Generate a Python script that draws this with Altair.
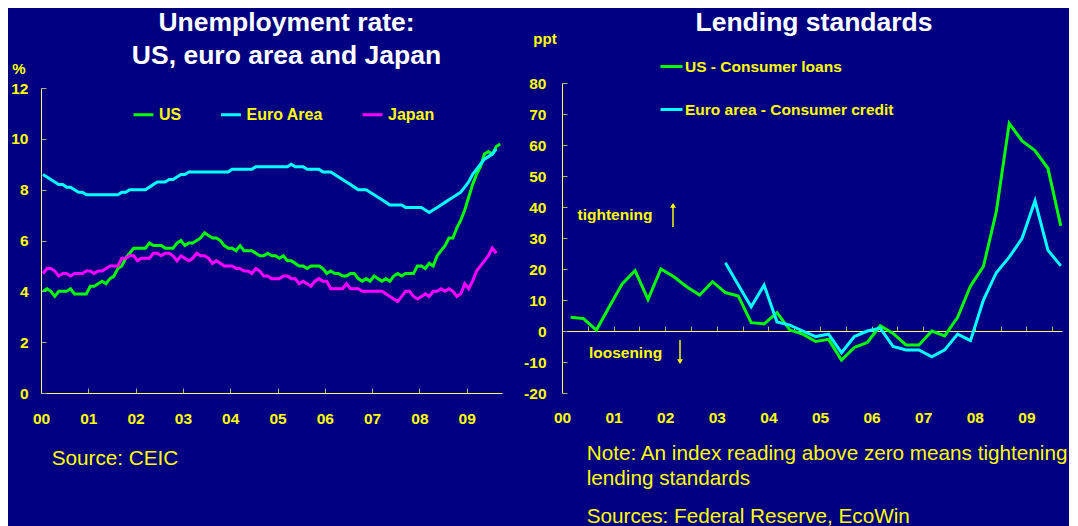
import altair as alt
import pandas as pd

FONT = "Liberation Sans"
BG = "#000080"
YELLOW = "#ffff00"
WHITE = "#ffffff"
GREEN = "#00ff00"
CYAN = "#00ffff"
MAGENTA = "#ff00ff"
AXIS_COL = "#ffff66"
TICK_COL = "#b4b46e"

# ---------------- data ----------------
# Unemployment rate, %, monthly from Jan 2000
us_unemp = [
    4.0, 4.1, 4.0, 3.8, 4.0, 4.0, 4.0, 4.1, 3.9, 3.9, 3.9, 3.9,
    4.2, 4.2, 4.3, 4.4, 4.3, 4.5, 4.6, 4.9, 5.0, 5.3, 5.5, 5.7,
    5.7, 5.7, 5.7, 5.9, 5.8, 5.8, 5.8, 5.7, 5.7, 5.7, 5.9, 6.0,
    5.8, 5.9, 5.9, 6.0, 6.1, 6.3, 6.2, 6.1, 6.1, 6.0, 5.8, 5.7,
    5.7, 5.6, 5.8, 5.6, 5.6, 5.6, 5.5, 5.4, 5.4, 5.5, 5.4, 5.4,
    5.3, 5.4, 5.2, 5.2, 5.1, 5.0, 5.0, 4.9, 5.0, 5.0, 5.0, 4.9,
    4.7, 4.8, 4.7, 4.7, 4.6, 4.6, 4.7, 4.7, 4.5, 4.4, 4.5, 4.4,
    4.6, 4.5, 4.4, 4.5, 4.4, 4.6, 4.7, 4.6, 4.7, 4.7, 4.7, 5.0,
    5.0, 4.9, 5.1, 5.0, 5.4, 5.6, 5.8, 6.1, 6.1, 6.5, 6.8, 7.2,
    7.7, 8.2, 8.6, 8.9, 9.4, 9.5, 9.4, 9.7, 9.8,
]
euro_unemp = [
    8.6, 8.5, 8.4, 8.3, 8.2, 8.2, 8.1, 8.1, 8.0, 7.9, 7.9, 7.8,
    7.8, 7.8, 7.8, 7.8, 7.8, 7.8, 7.8, 7.8, 7.9, 7.9, 8.0, 8.0,
    8.0, 8.0, 8.0, 8.1, 8.2, 8.3, 8.3, 8.3, 8.4, 8.4, 8.5, 8.6,
    8.6, 8.7, 8.7, 8.7, 8.7, 8.7, 8.7, 8.7, 8.7, 8.7, 8.7, 8.7,
    8.8, 8.8, 8.8, 8.8, 8.8, 8.8, 8.9, 8.9, 8.9, 8.9, 8.9, 8.9,
    8.9, 8.9, 8.9, 9.0, 8.9, 8.9, 8.9, 8.8, 8.8, 8.8, 8.8, 8.7,
    8.7, 8.7, 8.6, 8.5, 8.4, 8.3, 8.2, 8.1, 8.0, 8.0, 8.0, 7.9,
    7.8, 7.7, 7.6, 7.5, 7.4, 7.4, 7.4, 7.4, 7.3, 7.3, 7.3, 7.3,
    7.3, 7.2, 7.1, 7.2, 7.3, 7.4, 7.5, 7.6, 7.7, 7.8, 7.9, 8.1,
    8.3, 8.6, 8.8, 9.0, 9.2, 9.3, 9.4, 9.6,
]
japan_unemp = [
    4.7, 4.9, 4.9, 4.8, 4.6, 4.7, 4.7, 4.6, 4.7, 4.7, 4.7, 4.8,
    4.8, 4.7, 4.8, 4.8, 4.9, 5.0, 5.0, 5.0, 5.3, 5.3, 5.4, 5.4,
    5.2, 5.3, 5.3, 5.3, 5.5, 5.5, 5.4, 5.5, 5.5, 5.4, 5.2, 5.4,
    5.3, 5.2, 5.3, 5.5, 5.4, 5.4, 5.3, 5.1, 5.2, 5.1, 5.0, 5.0,
    5.0, 4.9, 4.9, 4.8, 4.8, 4.7, 4.9, 4.8, 4.6, 4.6, 4.5, 4.5,
    4.5, 4.6, 4.6, 4.5, 4.5, 4.3, 4.4, 4.3, 4.2, 4.4, 4.5, 4.4,
    4.4, 4.1, 4.1, 4.1, 4.1, 4.3, 4.1, 4.1, 4.1, 4.0, 4.0, 4.0,
    4.0, 4.0, 4.0, 3.9, 3.8, 3.7, 3.6, 3.8, 4.0, 4.0, 3.8, 3.7,
    3.8, 3.9, 3.8, 4.0, 4.0, 4.1, 4.0, 4.1, 4.0, 3.8, 3.9, 4.3,
    4.1, 4.4, 4.8, 5.0, 5.2, 5.4, 5.7, 5.5,
]
unemp_series = ["US", "Euro Area", "Japan"]
unemp_colors = [GREEN, CYAN, MAGENTA]

# Lending standards, net % (ppt), quarterly
us_lending_start = 2000  # first survey: Q1 2000
us_lending = [
    4.4, 4.0, 0.3, 7.8,
    15.2, 19.5, 10.2, 20.0,
    17.5, 14.3, 11.6, 15.9,
    12.4, 11.3, 2.7, 2.3,
    5.9, 0.3, -1.0, -3.4,
    -2.7, -9.4, -5.3, -3.7,
    1.7, -0.8, -4.5, -4.5,
    0.0, -1.6, 4.4, 14.5,
    20.8, 38.5, 67.0, 61.3,
    58.2, 52.5, 33.9,
]
euro_lending_start = 2003  # first survey: Q1 2003
euro_lending = [
    22.0, 14.8, 7.8, 14.8,
    2.9, 1.9, 0.0, -1.8,
    -1.0, -7.0, -1.8, 0.0,
    0.9, -5.0, -6.1, -6.1,
    -8.3, -6.1, -1.0, -3.1,
    10.0, 18.8, 23.8, 29.9,
    42.0, 26.1, 21.0,
]
lending_series = ["US - Consumer loans", "Euro area - Consumer credit"]
lending_colors = [GREEN, CYAN]

year_ticks = list(range(2000, 2010))
year_labels = ["00", "01", "02", "03", "04", "05", "06", "07", "08", "09"]
half_year_ticks = [2000 + 0.5 * k for k in range(20)]
unemp_ticks = list(range(0, 13, 2))
lending_ticks = list(range(-20, 81, 10))


def monthly(vals, name):
    return pd.DataFrame({
        "t": [2000 + (i + 0.5) / 12 for i in range(len(vals))],
        "v": vals,
        "series": name,
    })


def quarterly(vals, name, start):
    return pd.DataFrame({
        "t": [start + (3 * (i + 1) - 1) / 12 for i in range(len(vals))],
        "v": vals,
        "series": name,
    })


un_df = pd.concat([
    monthly(us_unemp, unemp_series[0]),
    monthly(euro_unemp, unemp_series[1]),
    monthly(japan_unemp, unemp_series[2]),
], ignore_index=True)

ld_df = pd.concat([
    quarterly(us_lending, lending_series[0], us_lending_start),
    quarterly(euro_lending, lending_series[1], euro_lending_start),
], ignore_index=True)

LBL_EXPR = "[" + ",".join("'%s'" % s for s in year_labels) + "][round(datum.value) - 2000]"

# ---------------- layout ----------------
H = 310
LW = 461
RW = 500


def label_axis_x(pad):
    return alt.Axis(orient="bottom", values=year_ticks, labelExpr=LBL_EXPR,
                    domain=False, ticks=False, tickSize=0, grid=False, title=None,
                    labelPadding=pad, labelFlush=False, labelOverlap=False, labelBound=False,
                    labelFont=FONT, labelFontSize=15.5, labelFontWeight="bold",
                    labelColor=YELLOW)


def label_axis_y(vals, pad):
    return alt.Axis(orient="left", values=vals, labelExpr="toString(datum.value)",
                    domain=False, ticks=False, tickSize=0, grid=False, title=None,
                    labelPadding=pad, labelFlush=False, labelOverlap=False,
                    labelFont=FONT, labelFontSize=15.5, labelFontWeight="bold",
                    labelColor=YELLOW)


def line_axis(orient, vals, offset):
    return alt.Axis(orient=orient, values=vals, labels=False, grid=False, title=None,
                    offset=offset, domainColor=AXIS_COL, domainWidth=1,
                    tickColor=TICK_COL, tickSize=5, tickWidth=1)


def txt(label, x, y, size, color=YELLOW, weight="bold", align="center", baseline="alphabetic"):
    return alt.Chart(pd.DataFrame({"label": [label]})).mark_text(
        font=FONT, fontSize=size, fontWeight=weight, color=color,
        align=align, baseline=baseline,
    ).encode(x=alt.value(x), y=alt.value(y), text="label:N")


ARROW = "M0,-1L0.25,-0.6L0.06,-0.6L0.06,1L-0.06,1L-0.06,-0.6L-0.25,-0.6Z"


def arrow(x, y, angle):
    return alt.Chart(pd.DataFrame({"a": [0]})).mark_point(
        shape=ARROW, filled=True, size=576, color=YELLOW, opacity=1,
        strokeWidth=0, angle=angle,
    ).encode(x=alt.value(x), y=alt.value(y))


# ----- left panel: unemployment -----
lxs = alt.Scale(domain=[2000, 2000 + LW / 47.3], nice=False, zero=False)
lys = alt.Scale(domain=[0, 12], range=[H, 5], nice=False, zero=False)

left_lines = alt.Chart(un_df).mark_line(strokeWidth=3).encode(
    x=alt.X("t:Q", scale=lxs, axis=label_axis_x(18)),
    y=alt.Y("v:Q", scale=lys, axis=label_axis_y(unemp_ticks, 13)),
    color=alt.Color("series:N", sort=unemp_series,
                    scale=alt.Scale(domain=unemp_series, range=unemp_colors),
                    legend=alt.Legend(orient="none", legendX=91, legendY=20,
                                      direction="horizontal", title=None,
                                      symbolType="stroke", symbolStrokeWidth=3,
                                      symbolSize=400, labelOffset=4, columnPadding=32.5,
                                      labelLimit=300,
                                      labelFont=FONT, labelFontSize=16,
                                      labelFontWeight="bold", labelColor=YELLOW)),
)
left_axes = alt.Chart(un_df).mark_point(opacity=0).encode(
    x=alt.X("t:Q", scale=lxs, axis=line_axis("top", year_ticks, -H)),
    y=alt.Y("v:Q", scale=lys, axis=line_axis("right", unemp_ticks, -LW)),
)
anchor = alt.Chart(pd.DataFrame({"a": [0]})).mark_rect(opacity=0).encode(
    x=alt.value(-33), x2=alt.value(-32), y=alt.value(-75), y2=alt.value(-74)
)

left = alt.layer(
    left_axes, left_lines, anchor,
    txt("Unemployment rate:", 245.5, -52.3, 26.5, color=WHITE),
    txt("US, euro area and Japan", 245.5, -19.5, 26.5, color=WHITE),
    txt("%", -22, -14, 15, baseline="middle"),
    txt("Source: CEIC", 10.7, 382, 20.7, weight="normal", align="left"),
).resolve_axis(x="independent", y="independent").properties(width=LW, height=H)

# ----- right panel: lending standards -----
rxs = alt.Scale(domain=[2000, 2000 + RW / 51.6], nice=False, zero=False)
rys = alt.Scale(domain=[-20, 80], nice=False, zero=False)
zero_offset = -H * 80 / 100

right_lines = alt.Chart(ld_df).mark_line(strokeWidth=3).encode(
    x=alt.X("t:Q", scale=rxs, axis=label_axis_x(17)),
    y=alt.Y("v:Q", scale=rys, axis=label_axis_y(lending_ticks, 16)),
    color=alt.Color("series:N", sort=lending_series,
                    scale=alt.Scale(domain=lending_series, range=lending_colors),
                    legend=alt.Legend(orient="none", legendX=97, legendY=-29,
                                      direction="vertical", title=None,
                                      symbolType="stroke", symbolStrokeWidth=3,
                                      symbolSize=484, labelOffset=1, rowPadding=22,
                                      labelLimit=400,
                                      labelFont=FONT, labelFontSize=15.5,
                                      labelFontWeight="bold", labelColor=YELLOW)),
)
right_axes = alt.Chart(ld_df).mark_point(opacity=0).encode(
    x=alt.X("t:Q", scale=rxs, axis=line_axis("top", half_year_ticks, zero_offset)),
    y=alt.Y("v:Q", scale=rys, axis=line_axis("right", lending_ticks, -RW)),
)

right = alt.layer(
    right_axes, right_lines,
    arrow(111, 132, 0),
    arrow(118, 269, 180),
    txt("Lending standards", 252, -52.5, 26.5, color=WHITE),
    txt("ppt", -17, -44, 15, baseline="middle"),
    txt("tightening", 53, 132, 15.5, baseline="middle"),
    txt("loosening", 63.5, 270, 15.5, baseline="middle"),
    txt("Note: An index reading above zero means tightening", 24.7, 377, 20.7,
        weight="normal", align="left"),
    txt("lending standards", 24.7, 402, 20.7, weight="normal", align="left"),
    txt("Sources: Federal Reserve, EcoWin", 24.7, 440, 20.7, weight="normal", align="left"),
).resolve_axis(x="independent", y="independent").properties(width=RW, height=H)

chart = alt.hconcat(left, right, spacing=60, bounds="flush").resolve_scale(
    color="independent"
).properties(padding=0, background=BG).configure_view(stroke=None)

chart.save("out.html", embed_options={"renderer": "svg", "actions": False})
